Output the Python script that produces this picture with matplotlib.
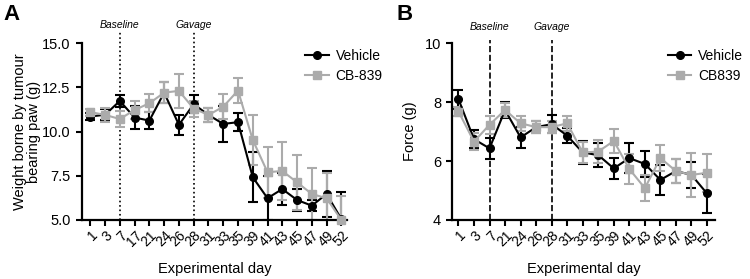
import numpy as np
import matplotlib
matplotlib.use('Agg')
import matplotlib.pyplot as plt

plt.rcParams['font.family'] = ['Liberation Sans', 'DejaVu Sans']

# panel A: weight bearing
days_a = ['1', '3', '7', '17', '21', '24', '26', '28', '31', '33', '35',
          '39', '41', '43', '45', '47', '49', '52']
veh_a = [10.85, 10.95, 11.73, 10.79, 10.62, 12.2, 10.38, 11.55, 10.94, 10.43,
         10.53, 7.42, 6.23, 6.75, 6.13, 5.81, 6.47, 5.05]
veh_a_err = [0.2, 0.3, 0.35, 0.65, 0.5, 0.6, 0.55, 0.5, 0.4, 1.0,
             0.5, 1.4, 1.25, 0.9, 0.6, 0.3, 1.3, 1.55]
cb_a = [11.1, 10.94, 10.71, 11.22, 11.6, 12.2, 12.3, 11.3, 10.94, 11.4,
        12.32, 9.53, 7.7, 7.77, 7.13, 6.47, 6.23, 5.0]
cb_a_err = [0.2, 0.38, 0.47, 0.5, 0.5, 0.6, 0.95, 0.45, 0.4, 0.7,
            0.7, 1.4, 1.45, 1.66, 1.55, 1.45, 1.4, 1.35]

# panel B: force
days_b = ['1', '3', '7', '21', '24', '26', '28', '31', '33', '35', '39',
          '41', '43', '45', '47', '49', '52']
veh_b = [8.1, 6.74, 6.43, 7.73, 6.8, 7.15, 7.25, 6.86, 6.29, 6.2, 5.75,
         6.1, 5.9, 5.36, 5.66, 5.53, 4.9]
veh_b_err = [0.32, 0.3, 0.35, 0.27, 0.35, 0.2, 0.3, 0.25, 0.38, 0.4, 0.35,
             0.5, 0.45, 0.5, 0.4, 0.45, 0.65]
cb_b = [7.68, 6.66, 7.23, 7.73, 7.28, 7.15, 7.15, 7.28, 6.29, 6.32, 6.68,
        5.73, 5.08, 6.1, 5.66, 5.53, 5.6]
cb_b_err = [0.15, 0.3, 0.3, 0.25, 0.25, 0.2, 0.2, 0.25, 0.35, 0.4, 0.4,
            0.5, 0.45, 0.45, 0.4, 0.75, 0.65]

GRAY = '#ababab'


def draw_series(ax, y, err, color, marker, label):
    x = np.arange(len(y))
    ax.errorbar(x, y, yerr=err, fmt='none', ecolor=color, elinewidth=1.5,
                capsize=3.5, capthick=1.5)
    ax.plot(x, y, color=color, marker=marker, markersize=5.5, lw=1.5,
            label=label, clip_on=False, zorder=3)


def style_axis(ax, labels):
    for s in ['top', 'right']:
        ax.spines[s].set_visible(False)
    for s in ['left', 'bottom']:
        ax.spines[s].set_linewidth(1.6)
    ax.set_xticks(np.arange(len(labels)))
    ax.set_xticklabels(labels, rotation=45, ha='right', rotation_mode='anchor',
                       fontsize=10)
    ax.tick_params(axis='x', length=4, width=1.5, pad=2)
    ax.tick_params(axis='y', length=4, width=1.5, labelsize=10.5, pad=4)
    ax.set_xlabel('Experimental day', fontsize=10.5, labelpad=9)


def add_legend(ax, x0):
    ax.legend(loc='upper left', bbox_to_anchor=(x0, 1.0), frameon=False,
              fontsize=10, handlelength=1.7, handletextpad=0.5,
              labelspacing=0.45, borderaxespad=0)


fig = plt.figure(figsize=(7.5, 2.79), dpi=100)
axA = fig.add_axes([0.109, 0.2115, 0.354, 0.634])
axB = fig.add_axes([0.603, 0.2115, 0.350, 0.634])

# A
draw_series(axA, veh_a, veh_a_err, 'black', 'o', 'Vehicle')
draw_series(axA, cb_a, cb_a_err, GRAY, 's', 'CB-839')
axA.set_ylim(5, 15)
axA.set_xlim(-0.58, 17.4)
axA.set_yticks([5, 7.5, 10, 12.5, 15])
axA.set_yticklabels(['5.0', '7.5', '10.0', '12.5', '15.0'])
style_axis(axA, days_a)
axA.set_ylabel('Weight borne by tumour\nbearing paw (g)', fontsize=10.5,
               linespacing=1.0)
axA.yaxis.set_label_coords(-0.155, 0.5)
for xi, txt in [(2, 'Baseline'), (7, 'Gavage')]:
    axA.axvline(xi, ymin=0, ymax=1.064, color='black', ls=':', lw=1.2,
                clip_on=False, zorder=1)
    axA.text(xi, 1.075, txt, transform=axA.get_xaxis_transform(),
             ha='center', va='bottom', fontsize=7.5, style='italic')
add_legend(axA, 0.82)

# B
draw_series(axB, veh_b, veh_b_err, 'black', 'o', 'Vehicle')
draw_series(axB, cb_b, cb_b_err, GRAY, 's', 'CB839')
axB.set_ylim(4, 10)
axB.set_xlim(-0.4, 16.5)
axB.set_yticks([4, 6, 8, 10])
style_axis(axB, days_b)
axB.set_ylabel('Force (g)', fontsize=10.5)
axB.yaxis.set_label_coords(-0.135, 0.5)
for xi, txt in [(2, 'Baseline'), (6, 'Gavage')]:
    axB.axvline(xi, ymin=0, ymax=1.02, color='black', ls='--', lw=1.2,
                clip_on=False, zorder=1)
    axB.text(xi, 1.06, txt, transform=axB.get_xaxis_transform(),
             ha='center', va='bottom', fontsize=7.5, style='italic')
add_legend(axB, 0.80)

fig.text(0.004, 0.985, 'A', fontsize=16, fontweight='bold', va='top')
fig.text(0.528, 0.985, 'B', fontsize=16, fontweight='bold', va='top')

fig.savefig('out.png', dpi=100)
